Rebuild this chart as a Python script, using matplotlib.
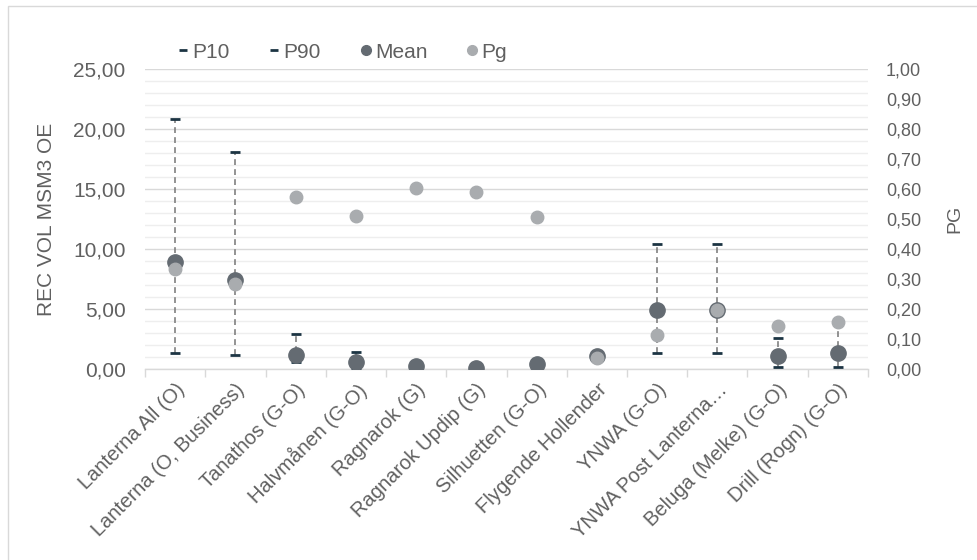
import matplotlib
matplotlib.use("Agg")
import matplotlib.pyplot as plt
from matplotlib.lines import Line2D
from matplotlib.patches import Rectangle
from matplotlib.ticker import FuncFormatter, MultipleLocator, FixedLocator

plt.rcParams['font.family'] = ['Liberation Sans', 'DejaVu Sans']

# data
prospects = ['Lanterna All (O)', 'Lanterna (O, Business)', 'Tanathos (G-O)',
             'Halvmånen (G-O)', 'Ragnarok (G)', 'Ragnarok Updip (G)',
             'Silhuetten (G-O)', 'Flygende Hollender', 'YNWA (G-O)',
             'YNWA Post Lanterna…', 'Beluga (Melke) (G-O)', 'Drill (Rogn) (G-O)']
p10 = [1.35, 1.20, 0.55, 0.05, 0.20, 0.05, 0.10, 0.90, 1.35, 1.35, 0.17, 0.20]
p90 = [20.80, 18.10, 2.95, 1.45, 0.30, 0.15, 0.80, 1.30, 10.45, 10.45, 2.55, 3.90]
mean = [8.90, 7.40, 1.15, 0.60, 0.25, 0.10, 0.38, 1.10, 4.92, 4.92, 1.08, 1.36]
pg = [0.333, 0.282, 0.574, 0.511, 0.602, 0.591, 0.507, 0.036, 0.114, 0.197, 0.143, 0.157]

text_col = '#606060'
mean_col = '#646b72'
pg_col = '#a9acaf'
cap_col = '#1c3443'
grid_major = '#d9d9d9'
grid_minor = '#eeeeee'

fig = plt.figure(figsize=(9.78, 5.6), dpi=100)
ax = fig.add_axes([0.1483, 0.341, 0.8875 - 0.1483, 0.8768 - 0.341])
x = list(range(len(prospects)))

comma = FuncFormatter(lambda v, p: f"{v:.2f}".replace('.', ','))

ax.set_xlim(-0.5, len(prospects) - 0.5)
ax.set_ylim(0, 25)
ax.yaxis.set_major_locator(MultipleLocator(5))
ax.yaxis.set_minor_locator(MultipleLocator(1))
ax.yaxis.set_major_formatter(comma)
ax.grid(axis='y', which='major', color=grid_major, lw=1.0, zorder=0)
ax.grid(axis='y', which='minor', color=grid_minor, lw=1.0, zorder=0)
ax.set_axisbelow(True)

for s in ['top', 'left', 'right']:
    ax.spines[s].set_visible(False)
ax.spines['bottom'].set_color(grid_major)
ax.spines['bottom'].set_linewidth(1.0)

ax.set_xticks(x)
ax.set_xticklabels(prospects, rotation=45, ha='right', rotation_mode='anchor',
                   fontsize=14.5, color=text_col)
ax.xaxis.set_minor_locator(FixedLocator([i - 0.5 for i in range(len(prospects) + 1)]))
ax.tick_params(axis='x', which='major', length=0, pad=8)
ax.tick_params(axis='x', which='minor', length=6, color=grid_major, width=1.0)
ax.tick_params(axis='y', which='both', length=0, pad=14, labelsize=15, labelcolor=text_col)
ax.set_ylabel('REC VOL MSM3 OE', fontsize=15, color=text_col, labelpad=12)

# P10 - P90 range lines
ax.vlines(x, p10, p90, colors='#808080', linestyles=(0, (3.5, 2.5)), lw=1.2, zorder=2)
ax.plot(x, p10, ls='none', marker='_', ms=7, mew=2, color=cap_col, zorder=3)
ax.plot(x, p90, ls='none', marker='_', ms=7, mew=2, color=cap_col, zorder=3)
ax.plot(x, mean, ls='none', marker='o', ms=11, color=mean_col, zorder=4)

ax2 = ax.twinx()
ax2.set_ylim(0, 1)
ax2.yaxis.set_major_locator(MultipleLocator(0.1))
ax2.yaxis.set_major_formatter(comma)
for s in ['top', 'left', 'right', 'bottom']:
    ax2.spines[s].set_visible(False)
ax2.tick_params(axis='y', length=0, pad=13, labelsize=13, labelcolor=text_col)
ax2.set_ylabel('PG', fontsize=14, color=text_col, labelpad=18)
ax2.plot(x, pg, ls='none', marker='o', ms=9, color=pg_col, zorder=5)

handles = [
    Line2D([], [], ls='none', marker='_', ms=6, mew=2, color=cap_col),
    Line2D([], [], ls='none', marker='_', ms=6, mew=2, color=cap_col),
    Line2D([], [], ls='none', marker='o', ms=7, color=mean_col),
    Line2D([], [], ls='none', marker='o', ms=7, color=pg_col),
]
fig.legend(handles, ['P10', 'P90', 'Mean', 'Pg'], loc='center',
           bbox_to_anchor=(0.35, 0.907), ncol=4, frameon=False,
           fontsize=15, labelcolor=text_col, handlelength=0.5,
           handletextpad=0.2, columnspacing=1.9)

# outer chart frame (clipped at right and bottom like the reference)
fig.patches.append(Rectangle((8 / 978, -0.1), 1.2, 1.1 - 6 / 560, transform=fig.transFigure,
                             fill=False, edgecolor=grid_major, lw=1.0, clip_on=False))

fig.savefig('out.png', dpi=100)
